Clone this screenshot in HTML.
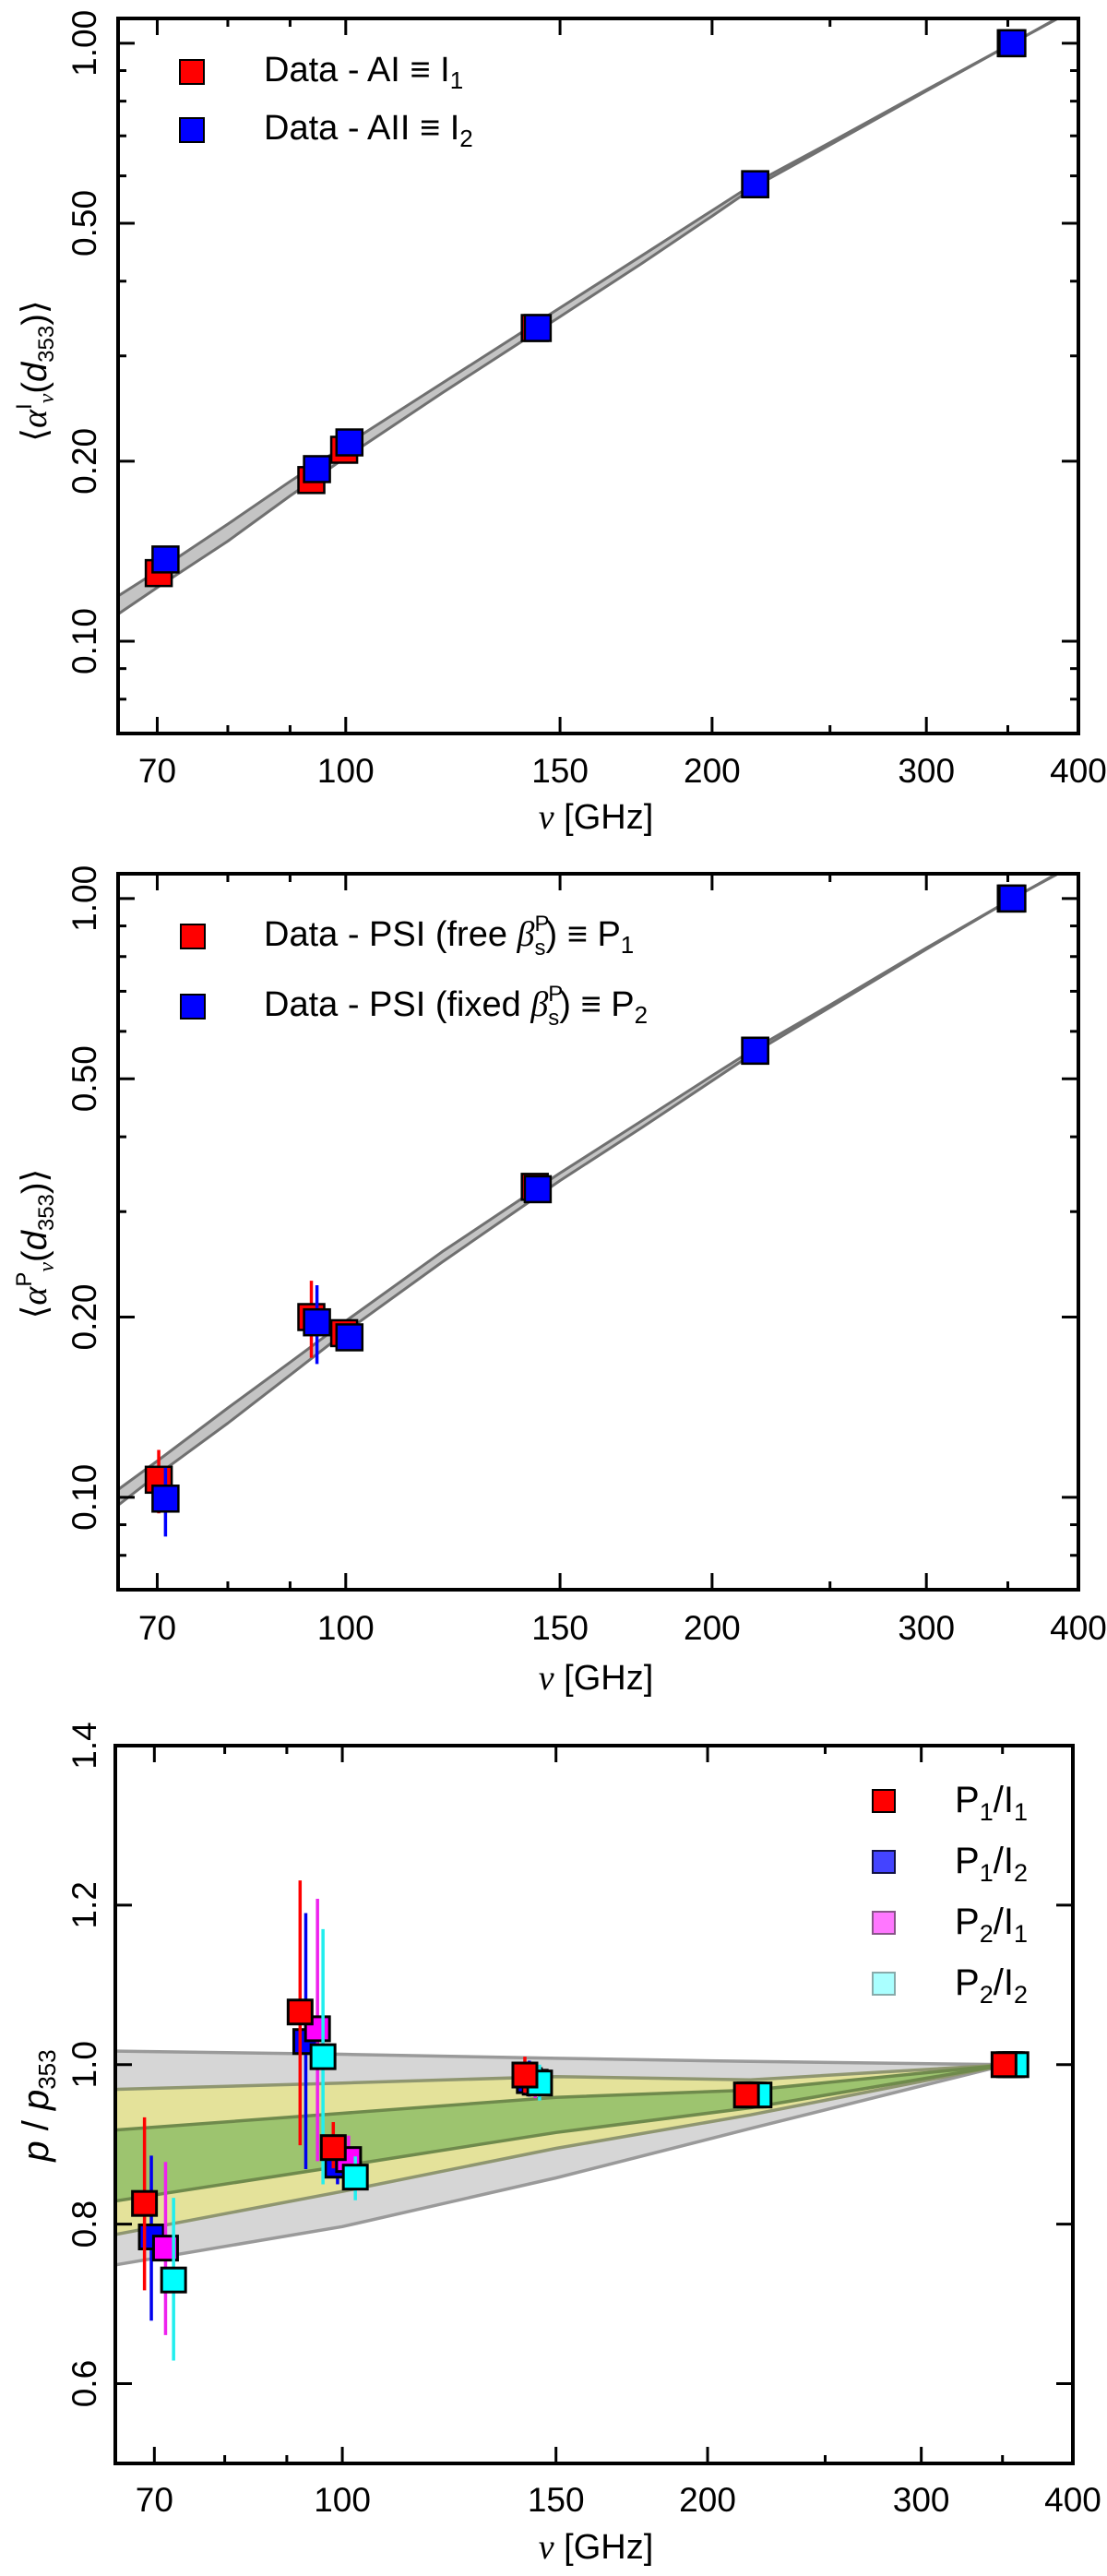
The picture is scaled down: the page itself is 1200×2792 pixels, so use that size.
<!DOCTYPE html>
<html><head><meta charset="utf-8">
<style>
html,body{margin:0;padding:0;background:#fff;}
svg{display:block;}
text{font-family:"Liberation Sans",sans-serif;fill:#000;}
</style></head>
<body>
<svg id="fig" width="1200" height="2792" viewBox="0 0 1200 2792" xmlns="http://www.w3.org/2000/svg"></svg>
<script>
// ---------- DATA ----------
const p1RedFreq = [70.2, 93.7, 99.7, 143, 217, 352];
const p1RedVal = [0.130, 0.186, 0.209, 0.334, 0.581, 1.0];
const p1BlueFreq = [71.1, 94.7, 100.7, 143.8, 217, 353];
const p1BlueVal = [0.137, 0.194, 0.215, 0.334, 0.581, 1.0];
const bandFreq = [65, 70, 80, 90, 100, 120, 150, 175, 200, 217, 250, 300, 353, 400];
const p1BandUpper = [0.119, 0.131, 0.157, 0.185, 0.213, 0.270, 0.361, 0.441, 0.525, 0.584, 0.682, 0.836, 1.0, 1.152];
const p1BandLower = [0.111, 0.123, 0.147, 0.175, 0.203, 0.260, 0.349, 0.428, 0.514, 0.576, 0.676, 0.832, 1.0, 1.148];
const p2RedFreq = [70.2, 93.7, 99.7, 143, 217, 352];
const p2RedVal = [0.107, 0.200, 0.188, 0.330, 0.557, 1.0];
const p2RedErrLo = [0.094, 0.171, 0.183, 0.325, 0.552, 1.0];
const p2RedErrHi = [0.120, 0.230, 0.193, 0.335, 0.562, 1.0];
const p2BlueFreq = [71.1, 94.7, 100.7, 143.8, 217, 353];
const p2BlueVal = [0.0995, 0.196, 0.185, 0.327, 0.557, 1.0];
const p2BlueErrLo = [0.086, 0.167, 0.180, 0.322, 0.552, 1.0];
const p2BlueErrHi = [0.112, 0.226, 0.190, 0.332, 0.562, 1.0];
const p2BandUpper = [0.103, 0.115, 0.141, 0.168, 0.197, 0.257, 0.348, 0.425, 0.506, 0.562, 0.664, 0.827, 1.0, 1.152];
const p2BandLower = [0.097, 0.109, 0.133, 0.160, 0.189, 0.247, 0.338, 0.414, 0.496, 0.554, 0.658, 0.823, 1.0, 1.148];
const rFreqRed = [68.7, 92.3, 98.3, 141.4, 215.3, 351];
const rValRed = [0.826, 1.066, 0.896, 0.987, 0.962, 1.0];
const rLoRed = [0.717, 0.899, 0.870, 0.965, 0.950, 0.985];
const rHiRed = [0.934, 1.231, 0.928, 1.010, 0.975, 1.015];
const rFreqBlue = [69.6, 93.3, 99.1, 142.6, 216.8, 354.6];
const rValBlue = [0.784, 1.029, 0.874, 0.980, 0.962, 1.0];
const rLoBlue = [0.679, 0.869, 0.850, 0.960, 0.950, 0.985];
const rHiBlue = [0.886, 1.190, 0.900, 1.005, 0.975, 1.015];
const rFreqMag = [71.5, 95.4, 101.2, 144.2, 218.2, 356];
const rValMag = [0.770, 1.045, 0.881, 0.978, 0.962, 1.0];
const rLoMag = [0.661, 0.879, 0.855, 0.958, 0.950, 0.985];
const rHiMag = [0.878, 1.208, 0.911, 1.003, 0.975, 1.015];
const rFreqCyan = [72.6, 96.4, 102.5, 145.4, 220.5, 359];
const rValCyan = [0.730, 1.010, 0.859, 0.977, 0.962, 1.0];
const rLoCyan = [0.629, 0.850, 0.830, 0.955, 0.950, 0.985];
const rHiCyan = [0.833, 1.170, 0.885, 1.000, 0.975, 1.015];
const rBandFreq = [65, 100, 150, 217, 353];
const rGrayHigh = [1.017, 1.013, 1.008, 1.004, 1.0];
const rYellowHigh = [0.969, 0.977, 0.985, 0.981, 1.0];
const rGreenHigh = [0.918, 0.939, 0.959, 0.968, 1.0];
const rGreenLow = [0.829, 0.873, 0.915, 0.946, 1.0];
const rYellowLow = [0.787, 0.841, 0.895, 0.937, 1.0];
const rGrayLow = [0.749, 0.797, 0.858, 0.920, 1.0];
const xTicks = [70, 100, 150, 200, 300, 400];
const xMinor = [80, 90, 250, 350];
const yLogTicks = [0.10, 0.20, 0.50, 1.00];
const yLogLabels = ["0.10", "0.20", "0.50", "1.00"];
const yLogMinor = [0.08, 0.09, 0.3, 0.4, 0.6, 0.7, 0.8, 0.9];
const yLinTicks = [0.6, 0.8, 1.0, 1.2, 1.4];
const yLinLabels = ["0.6", "0.8", "1.0", "1.2", "1.4"];

// ---------- HELPERS ----------
const NS = "http://www.w3.org/2000/svg";
const svg = document.getElementById('fig');
function mk(tag, attrs, parent) {
  const e = document.createElementNS(NS, tag);
  for (const k in attrs) e.setAttribute(k, attrs[k]);
  (parent || svg).appendChild(e);
  return e;
}
function makeAxes(L, R, T, B, xmin, xmax, ymin, ymax, ylog) {
  const lx0 = Math.log10(xmin), lx1 = Math.log10(xmax);
  const X = v => L + (Math.log10(v) - lx0) / (lx1 - lx0) * (R - L);
  let Y;
  if (ylog) { const a = Math.log10(ymin), b = Math.log10(ymax); Y = v => B - (Math.log10(v) - a) / (b - a) * (B - T); }
  else Y = v => B - (v - ymin) / (ymax - ymin) * (B - T);
  return {X, Y, L, R, T, B};
}
function drawFrame(g, ax, yticks, ylabels, yminor, tickLabelY) {
  const f = mk('g', {}, g);
  
  
  for (const t of xTicks) {
    const x = ax.X(t);
    mk('line', {x1: x, x2: x, y1: ax.B, y2: ax.B - 18, stroke: '#000', 'stroke-width': 3}, f);
    mk('line', {x1: x, x2: x, y1: ax.T, y2: ax.T + 18, stroke: '#000', 'stroke-width': 3}, f);
    const tl = mk('text', {x: x, y: tickLabelY, 'font-size': 37, 'text-anchor': 'middle'}, f);
    
    
    tl.textContent = String(t);
  }
  for (const t of xMinor) {
    const x = ax.X(t);
    mk('line', {x1: x, x2: x, y1: ax.B, y2: ax.B - 9, stroke: '#000', 'stroke-width': 3}, f);
    mk('line', {x1: x, x2: x, y1: ax.T, y2: ax.T + 9, stroke: '#000', 'stroke-width': 3}, f);
  }
  yticks.forEach((t, i) => {
    const y = ax.Y(t);
    mk('line', {x1: ax.L, x2: ax.L + 18, y1: y, y2: y, stroke: '#000', 'stroke-width': 3}, f);
    mk('line', {x1: ax.R, x2: ax.R - 18, y1: y, y2: y, stroke: '#000', 'stroke-width': 3}, f);
    const tl = mk('text', {x: 0, y: 0, 'font-size': 37, 'text-anchor': 'middle', transform: `translate(104,${y}) rotate(-90)`}, f);
    
    
    tl.textContent = ylabels[i];
  });
  for (const t of yminor) {
    const y = ax.Y(t);
    mk('line', {x1: ax.L, x2: ax.L + 9, y1: y, y2: y, stroke: '#000', 'stroke-width': 3}, f);
    mk('line', {x1: ax.R, x2: ax.R - 9, y1: y, y2: y, stroke: '#000', 'stroke-width': 3}, f);
  }
  mk('rect', {x: ax.L, y: ax.T, width: ax.R - ax.L, height: ax.B - ax.T, fill: 'none', stroke: '#000', 'stroke-width': 4}, f);
}
function bandPath(ax, fr, up, lo) {
  let d = '';
  fr.forEach((f, i) => d += (i ? 'L' : 'M') + ax.X(f).toFixed(1) + ',' + ax.Y(up[i]).toFixed(1));
  for (let i = fr.length - 1; i >= 0; i--) d += 'L' + ax.X(fr[i]).toFixed(1) + ',' + ax.Y(lo[i]).toFixed(1);
  return d + 'Z';
}
function linePath(ax, fr, v) {
  let d = '';
  fr.forEach((f, i) => d += (i ? 'L' : 'M') + ax.X(f).toFixed(1) + ',' + ax.Y(v[i]).toFixed(1));
  return d;
}
function clip(id, ax) {
  const defs = mk('defs', {});
  const cp = mk('clipPath', {id: id}, defs);
  mk('rect', {x: ax.L, y: ax.T, width: ax.R - ax.L, height: ax.B - ax.T}, cp);
}

// ---------- PANEL 1 ----------
(function () {
  const ax = makeAxes(128, 1169, 20, 795, 65, 400, 0.0701, 1.10, true);
  const g = mk('g', {});
  
  
  clip('c1', ax);
  const bg = mk('g', {'clip-path': 'url(#c1)'}, g);
  const band = mk('path', {d: bandPath(ax, bandFreq, p1BandUpper, p1BandLower), fill: '#c4c4c4'}, bg);
  
  
  mk('path', {d: linePath(ax, bandFreq, p1BandUpper), fill: 'none', stroke: '#707070', 'stroke-width': 3, 'stroke-linejoin': 'round'}, bg);
  mk('path', {d: linePath(ax, bandFreq, p1BandLower), fill: 'none', stroke: '#707070', 'stroke-width': 3, 'stroke-linejoin': 'round'}, bg);
  const series = [[p1RedFreq, p1RedVal, '#ff0000', 'red-marker'], [p1BlueFreq, p1BlueVal, '#0000ff', 'blue-marker']];
  for (const [fr, v, c, nm] of series) {
    fr.forEach((f, i) => {
      const r = mk('rect', {x: ax.X(f) - 14, y: ax.Y(v[i]) - 14, width: 28, height: 28, fill: c, stroke: '#000', 'stroke-width': 2.5}, g);
      
      
    });
  }
  drawFrame(g, ax, yLogTicks, yLogLabels, yLogMinor, 848);
  const leg = mk('g', {}, g);
  
  
  mk('rect', {x: 195, y: 65, width: 26, height: 26, fill: '#ff0000', stroke: '#000', 'stroke-width': 2}, leg);
  mk('rect', {x: 195, y: 128, width: 26, height: 26, fill: '#0000ff', stroke: '#000', 'stroke-width': 2}, leg);
  const t1 = mk('text', {x: 286, y: 88, 'font-size': 38}, leg);
  t1.innerHTML = 'Data - AI ≡ I<tspan font-size="26" dy="8">1</tspan>';
  const t2 = mk('text', {x: 286, y: 151, 'font-size': 38}, leg);
  t2.innerHTML = 'Data - AII ≡ I<tspan font-size="26" dy="8">2</tspan>';
  const yl = mk('text', {x: 0, y: 0, 'font-size': 38, 'text-anchor': 'middle', transform: 'translate(50,402) rotate(-90)'}, g);
  
  
  yl.innerHTML = '⟨<tspan font-family="Liberation Serif" font-style="italic">α</tspan><tspan font-size="24" dy="-16">I</tspan><tspan font-size="24" dy="24" font-family="Liberation Serif" font-style="italic">ν</tspan><tspan dy="-8">(</tspan><tspan font-style="italic">d</tspan><tspan font-size="24" dy="8">353</tspan><tspan dy="-8">)⟩</tspan>';
  const xl = mk('text', {x: 646, y: 898, 'font-size': 38, 'text-anchor': 'middle'}, g);
  
  
  xl.innerHTML = '<tspan font-family="Liberation Serif" font-style="italic">ν</tspan> [GHz]';
})();

// ---------- PANEL 2 ----------
(function () {
  const ax = makeAxes(128, 1169, 947, 1723, 65, 400, 0.0701, 1.10, true);
  const g = mk('g', {});
  
  
  clip('c2', ax);
  const bg = mk('g', {'clip-path': 'url(#c2)'}, g);
  const band = mk('path', {d: bandPath(ax, bandFreq, p2BandUpper, p2BandLower), fill: '#c4c4c4'}, bg);
  
  
  mk('path', {d: linePath(ax, bandFreq, p2BandUpper), fill: 'none', stroke: '#707070', 'stroke-width': 3, 'stroke-linejoin': 'round'}, bg);
  mk('path', {d: linePath(ax, bandFreq, p2BandLower), fill: 'none', stroke: '#707070', 'stroke-width': 3, 'stroke-linejoin': 'round'}, bg);
  const series = [[p2RedFreq, p2RedVal, p2RedErrLo, p2RedErrHi, '#ff0000', 'red-marker'], [p2BlueFreq, p2BlueVal, p2BlueErrLo, p2BlueErrHi, '#0000ff', 'blue-marker']];
  for (const [fr, v, lo, hi, c, nm] of series) {
    fr.forEach((f, i) => {
      const eb = mk('line', {x1: ax.X(f), x2: ax.X(f), y1: ax.Y(lo[i]), y2: ax.Y(hi[i]), stroke: c, 'stroke-width': 3.5}, g);
      
      
      const r = mk('rect', {x: ax.X(f) - 14, y: ax.Y(v[i]) - 14, width: 28, height: 28, fill: c, stroke: '#000', 'stroke-width': 2.5}, g);
      
      
    });
  }
  drawFrame(g, ax, yLogTicks, yLogLabels, yLogMinor, 1777);
  const leg = mk('g', {}, g);
  
  
  mk('rect', {x: 196, y: 1002, width: 26, height: 26, fill: '#ff0000', stroke: '#000', 'stroke-width': 2}, leg);
  mk('rect', {x: 196, y: 1078, width: 26, height: 26, fill: '#0000ff', stroke: '#000', 'stroke-width': 2}, leg);
  const t1 = mk('text', {x: 286, y: 1025, 'font-size': 38}, leg);
  t1.innerHTML = 'Data - PSI (free <tspan font-family="Liberation Serif" font-style="italic">β</tspan><tspan font-size="24" dy="-16">P</tspan><tspan font-size="24" dx="-16" dy="26">s</tspan><tspan dy="-10">) ≡ P</tspan><tspan font-size="26" dy="8">1</tspan>';
  const t2 = mk('text', {x: 286, y: 1101, 'font-size': 38}, leg);
  t2.innerHTML = 'Data - PSI (fixed <tspan font-family="Liberation Serif" font-style="italic">β</tspan><tspan font-size="24" dy="-16">P</tspan><tspan font-size="24" dx="-16" dy="26">s</tspan><tspan dy="-10">) ≡ P</tspan><tspan font-size="26" dy="8">2</tspan>';
  const yl = mk('text', {x: 0, y: 0, 'font-size': 38, 'text-anchor': 'middle', transform: 'translate(50,1348) rotate(-90)'}, g);
  
  
  yl.innerHTML = '⟨<tspan font-family="Liberation Serif" font-style="italic">α</tspan><tspan font-size="24" dy="-16">P</tspan><tspan font-size="24" dy="24" font-family="Liberation Serif" font-style="italic">ν</tspan><tspan dy="-8">(</tspan><tspan font-style="italic">d</tspan><tspan font-size="24" dy="8">353</tspan><tspan dy="-8">)⟩</tspan>';
  const xl = mk('text', {x: 646, y: 1831, 'font-size': 38, 'text-anchor': 'middle'}, g);
  
  
  xl.innerHTML = '<tspan font-family="Liberation Serif" font-style="italic">ν</tspan> [GHz]';
})();

// ---------- PANEL 3 ----------
(function () {
  const ax = makeAxes(125, 1163, 1892, 2670, 65, 400, 0.5, 1.4, false);
  const g = mk('g', {});
  
  
  clip('c3', ax);
  const bg = mk('g', {'clip-path': 'url(#c3)'}, g);
  const bands = [[rGrayHigh, rGrayLow, '#d6d6d6', 'band-gray'], [rYellowHigh, rYellowLow, '#e4e29a', 'band-yellow'], [rGreenHigh, rGreenLow, '#9dc46f', 'band-green']];
  for (const [u, l, c, nm] of bands) {
    const p = mk('path', {d: bandPath(ax, rBandFreq, u, l), fill: c}, bg);
    
    
  }
  const edges = [[rGrayHigh, '#9a9a9a'], [rGrayLow, '#9a9a9a'], [rYellowHigh, '#8f9670'], [rYellowLow, '#8f9670'], [rGreenHigh, '#6f8a4c'], [rGreenLow, '#6f8a4c']];
  for (const [v, c] of edges) mk('path', {d: linePath(ax, rBandFreq, v), fill: 'none', stroke: c, 'stroke-width': 3.5}, bg);
  const series = [
    [rFreqBlue, rValBlue, rLoBlue, rHiBlue, '#0000ff', '#0000ee', 'p1-i2-marker'],
    [rFreqMag, rValMag, rLoMag, rHiMag, '#ff00ff', '#ee22ee', 'p2-i1-marker'],
    [rFreqCyan, rValCyan, rLoCyan, rHiCyan, '#00ffff', '#22eeee', 'p2-i2-marker'],
    [rFreqRed, rValRed, rLoRed, rHiRed, '#ff0000', '#ff0000', 'p1-i1-marker']];
  for (const [fr, v, lo, hi, c, ec, nm] of series) {
    fr.forEach((f, i) => {
      const eb = mk('line', {x1: ax.X(f), x2: ax.X(f), y1: ax.Y(lo[i]), y2: ax.Y(hi[i]), stroke: ec, 'stroke-width': 3.5}, g);
      
      
      const r = mk('rect', {x: ax.X(f) - 13, y: ax.Y(v[i]) - 13, width: 26, height: 26, fill: c, stroke: '#000', 'stroke-width': 3}, g);
      
      
    });
  }
  drawFrame(g, ax, yLinTicks, yLinLabels, [], 2722);
  const leg = mk('g', {}, g);
  
  
  const legItems = [['#ff0000', '#000', '1', '1'], ['#4444ff', '#111144', '1', '2'], ['#ff77ff', '#885588', '2', '1'], ['#aaffff', '#88aaaa', '2', '2']];
  legItems.forEach((it, i) => {
    const y = 1952 + i * 66;
    const m = mk('rect', {x: 946, y: y - 12, width: 24, height: 24, fill: it[0], stroke: it[1], 'stroke-width': 2}, leg);
    
    
    const t = mk('text', {x: 1035, y: y + 12, 'font-size': 40}, leg);
    
    
    t.innerHTML = 'P<tspan font-size="27" dy="9">' + it[2] + '</tspan><tspan dy="-9">/I</tspan><tspan font-size="27" dy="9">' + it[3] + '</tspan>';
  });
  const yl = mk('text', {x: 0, y: 0, 'font-size': 40, 'text-anchor': 'middle', transform: 'translate(52,2282) rotate(-90)'}, g);
  
  
  yl.innerHTML = '<tspan font-style="italic">p</tspan> / <tspan font-style="italic">p</tspan><tspan font-size="26" dy="8">353</tspan>';
  const xl = mk('text', {x: 646, y: 2773, 'font-size': 38, 'text-anchor': 'middle'}, g);
  
  
  xl.innerHTML = '<tspan font-family="Liberation Serif" font-style="italic">ν</tspan> [GHz]';
})();
</script>
</body></html>
